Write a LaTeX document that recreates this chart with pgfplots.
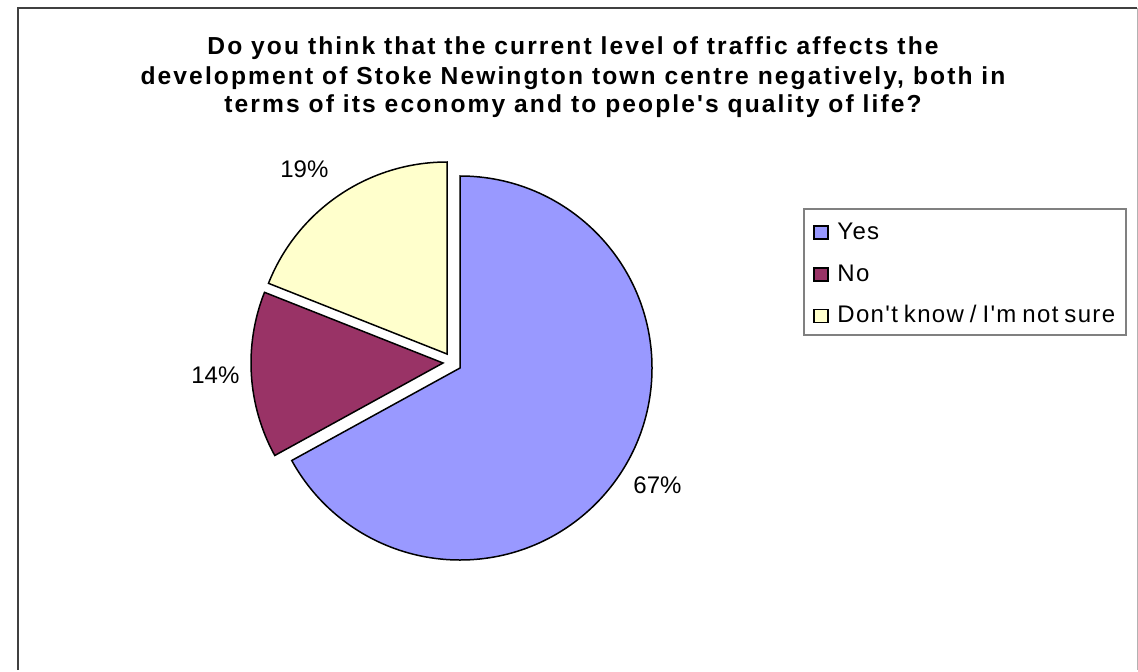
\documentclass[border=0pt]{standalone}
\usepackage{pgfplots}
\usepackage{pgfplotstable}
\pgfplotsset{compat=1.18}
\usepackage{fontspec}
\setmainfont{Liberation Sans}
\newfontfamily\titlefont{Liberation Sans}[LetterSpace=8.5]
\newfontfamily\legfont{Liberation Sans}[LetterSpace=5.5,WordSpace=0.75]
\definecolor{yesc}{HTML}{9999FF}
\definecolor{noc}{HTML}{993366}
\definecolor{dkc}{HTML}{FFFFCC}
\definecolor{framec}{HTML}{404040}
% slice value (percent), centre of slice in px (x, y from bottom)
\pgfplotstableread{
label value cx cy
Yes 67 460 302
No 14 443 307
DK 19 447 316
}\piedata
\begin{document}
\begin{tikzpicture}
\pgfplotstablegetelem{0}{value}\of\piedata \let\vA\pgfplotsretval
\pgfplotstablegetelem{1}{value}\of\piedata \let\vB\pgfplotsretval
\pgfplotstablegetelem{2}{value}\of\piedata \let\vC\pgfplotsretval
\pgfmathsetmacro\aA{90-3.6*\vA}
\pgfmathsetmacro\aB{\aA-3.6*\vB}
\pgfmathsetmacro\aC{\aB-3.6*\vC}
\begin{axis}[x=0.5pt,y=0.5pt,xmin=0,xmax=1138,ymin=0,ymax=670,
  hide axis, clip=false, /pgf/number format/assume math mode=true]
\path (axis cs:0,0) rectangle (axis cs:1138,670);
% frame
\draw[framec, line width=1pt] (axis cs:18,0) -- (axis cs:18,662) -- (axis cs:1137,662);
\draw[gray!60, line width=0.5pt] (axis cs:1137,662) -- (axis cs:1137,0);
% wedges
\pgfplotstablegetelem{0}{cx}\of\piedata \let\xA\pgfplotsretval
\pgfplotstablegetelem{0}{cy}\of\piedata \let\yA\pgfplotsretval
\pgfplotstablegetelem{1}{cx}\of\piedata \let\xB\pgfplotsretval
\pgfplotstablegetelem{1}{cy}\of\piedata \let\yB\pgfplotsretval
\pgfplotstablegetelem{2}{cx}\of\piedata \let\xC\pgfplotsretval
\pgfplotstablegetelem{2}{cy}\of\piedata \let\yC\pgfplotsretval
\filldraw[fill=yesc, draw=black, line width=0.75pt, line join=miter]
  (axis cs:\xA,\yA) -- ++(90:96pt) arc[start angle=90, end angle=\aA, radius=96pt] -- cycle;
\filldraw[fill=noc, draw=black, line width=0.75pt, line join=miter]
  (axis cs:\xB,\yB) -- ++(\aA:96pt) arc[start angle=\aA, end angle=\aB, radius=96pt] -- cycle;
\filldraw[fill=dkc, draw=black, line width=0.75pt, line join=miter]
  (axis cs:\xC,\yC) -- ++(\aB:96pt) arc[start angle=\aB, end angle=\aC, radius=96pt] -- cycle;
% percentage labels
\node[anchor=base west, inner sep=0pt, font=\fontsize{12}{14}\selectfont] at (axis cs:280,493) {\pgfmathprintnumber{\vC}\%};
\node[anchor=base west, inner sep=0pt, font=\fontsize{12}{14}\selectfont] at (axis cs:191,287) {\pgfmathprintnumber{\vB}\%};
\node[anchor=base west, inner sep=0pt, font=\fontsize{12}{14}\selectfont] at (axis cs:633,177) {\pgfmathprintnumber{\vA}\%};
% title
\node[anchor=base, inner sep=0pt, font=\titlefont\bfseries\fontsize{12.3}{14}\selectfont] at (axis cs:573,615)
  {Do you think that the current level of traffic affects the};
\node[anchor=base, inner sep=0pt, font=\titlefont\bfseries\fontsize{12.3}{14}\selectfont] at (axis cs:573,585.5)
  {development of Stoke Newington town centre negatively, both in};
\node[anchor=base, inner sep=0pt, font=\titlefont\bfseries\fontsize{12.3}{14}\selectfont] at (axis cs:573,557.5)
  {terms of its economy and to people's quality of life?};
% legend
\draw[gray, line width=0.6pt] (axis cs:804,335) rectangle (axis cs:1126,461);
\filldraw[fill=yesc, draw=black, line width=0.6pt] (axis cs:814,431) rectangle (axis cs:828,444);
\filldraw[fill=noc, draw=black, line width=0.6pt] (axis cs:814,389) rectangle (axis cs:828,402);
\filldraw[fill=dkc, draw=black, line width=0.6pt] (axis cs:814,347.5) rectangle (axis cs:828,360.5);
\node[anchor=base west, inner sep=0pt, font=\legfont\fontsize{12}{14}\selectfont] at (axis cs:837,430.5) {Yes};
\node[anchor=base west, inner sep=0pt, font=\legfont\fontsize{12}{14}\selectfont] at (axis cs:837,389) {No};
\node[anchor=base west, inner sep=0pt, font=\legfont\fontsize{12}{14}\selectfont] at (axis cs:837,347.3) {Don't know / I'm not sure};
\end{axis}
\end{tikzpicture}
\end{document}
